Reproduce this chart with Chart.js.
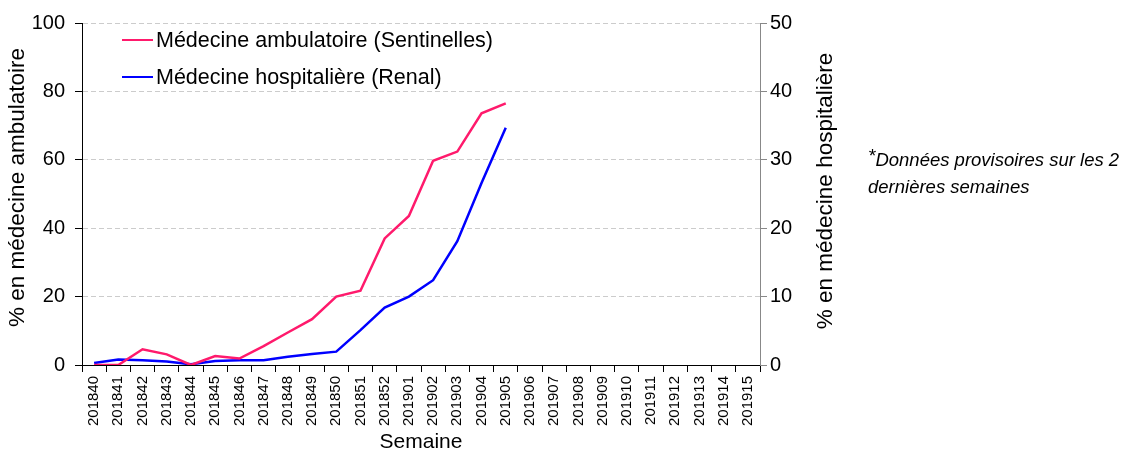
<!DOCTYPE html>
<html>
<head>
<meta charset="utf-8">
<script src="https://cdn.jsdelivr.net/npm/chart.js@4"></script>
<style>
  body { margin: 0; background: #fff; }
  #wrap { position: relative; width: 1125px; height: 452px; }
  #note {
    position: absolute; left: 868px; top: 146px;
    font: italic 18.5px "Liberation Sans", Arial, sans-serif;
    line-height: 27px; color: #000; white-space: nowrap;
  }
  #note sup { font-size: 19px; vertical-align: 4px; line-height: 0; }
</style>
</head>
<body>
<div id="wrap">
  <canvas id="chart_elem"></canvas>
  <div id="note"><sup>*</sup>Données provisoires sur les 2<br>dernières semaines</div>
</div>
<script>
// weeks on the x axis
const weeks = ['201840', '201841', '201842', '201843', '201844', '201845', '201846',
  '201847', '201848', '201849', '201850', '201851', '201852', '201901', '201902',
  '201903', '201904', '201905', '201906', '201907', '201908', '201909', '201910',
  '201911', '201912', '201913', '201914', '201915'];

// % en médecine ambulatoire (left axis)
const sentinelles = [0, 0, 4.6, 3.1, 0, 2.6, 1.9, 5.5, 9.5, 13.4, 20.0, 21.7,
  37.0, 43.6, 59.7, 62.4, 73.6, 76.5];

// % en médecine hospitalière (right axis)
const renal = [0.3, 0.8, 0.7, 0.5, 0.1, 0.6, 0.7, 0.7, 1.2, 1.6, 1.95, 5.1,
  8.4, 10.0, 12.4, 18.1, 26.6, 34.7];

const leftTitle = '% en médecine ambulatoire';
const rightTitle = '% en médecine hospitalière';

const font = '"Liberation Sans", Arial, sans-serif';

// legend inside the plot + both axis titles read bottom to top
const extras = {
  id: 'extras',
  afterDraw(chart) {
    const ctx = chart.ctx;
    const a = chart.chartArea;
    ctx.save();
    ctx.font = '21.5px ' + font;
    ctx.textBaseline = 'middle';
    chart.data.datasets.forEach((ds, i) => {
      const y = a.top + 17 + i * 37;
      const x = a.left + 40;
      ctx.strokeStyle = ds.borderColor;
      ctx.lineWidth = 2;
      ctx.beginPath();
      ctx.moveTo(x, y);
      ctx.lineTo(x + 31, y);
      ctx.stroke();
      ctx.fillStyle = '#000';
      ctx.fillText(ds.label, x + 34, y + 1);
    });

    const vtext = (txt, x, y, size) => {
      ctx.save();
      ctx.translate(x, y);
      ctx.rotate(-Math.PI / 2);
      ctx.font = size + 'px ' + font;
      ctx.textAlign = 'center';
      ctx.textBaseline = 'middle';
      ctx.fillStyle = '#000';
      ctx.fillText(txt, 0, 0);
      ctx.restore();
    };
    const mid = (a.top + a.bottom) / 2;
    vtext(leftTitle, a.left - 64, mid - 6.5, 22.5);
    vtext(rightTitle, a.right + 66, mid - 3, 22.5);
    ctx.restore();
  }
};

const canvas = document.getElementById('chart_elem');
const ctx = canvas.getContext('2d');

const chart = new Chart(ctx, {
  type: 'line',
  data: {
    labels: weeks,
    datasets: [{
      label: 'Médecine ambulatoire (Sentinelles)',
      data: sentinelles,
      borderColor: '#ff1a6c',
      borderWidth: 2.5,
      pointRadius: 0,
      tension: 0,
      yAxisID: 'y'
    }, {
      label: 'Médecine hospitalière (Renal)',
      data: renal,
      borderColor: '#0000ff',
      borderWidth: 2.5,
      pointRadius: 0,
      tension: 0,
      yAxisID: 'y2'
    }]
  },
  options: {
    responsive: true,
    maintainAspectRatio: false,
    animation: false,
    layout: { padding: { top: 23, right: 283, bottom: 0, left: 0 } },
    plugins: { legend: { display: false }, tooltip: { enabled: false } },
    scales: {
      x: {
        offset: true,
        afterFit: (s) => { s.height = 87; },
        grid: { offset: true, drawOnChartArea: false, tickLength: 7, color: '#000' },
        border: { color: '#000', width: 1 },
        ticks: {
          autoSkip: false, minRotation: 90, maxRotation: 90, padding: 4,
          color: '#000', font: { family: font, size: 15 }
        },
        title: {
          display: true, text: 'Semaine', color: '#000',
          font: { family: font, size: 21 }, padding: { top: 0, bottom: -3 }
        }
      },
      y: {
        position: 'left',
        min: 0, max: 100,
        afterFit: (s) => { s.width = 82; },
        grid: { color: '#cccccc', tickColor: '#000', tickLength: 7 },
        border: { color: '#000', dash: [5, 3] },
        ticks: { stepSize: 20, padding: 10, color: '#000', font: { family: font, size: 20 } },
        title: { display: false }
      },
      y2: {
        position: 'right',
        min: 0, max: 50,
        afterFit: (s) => { s.width = 82; },
        grid: { drawOnChartArea: false, tickColor: '#888', tickLength: 7 },
        border: { color: '#888' },
        ticks: { stepSize: 10, padding: 3, color: '#000', font: { family: font, size: 20 } },
        title: { display: false }
      }
    }
  },
  plugins: [extras]
});
</script>
</body>
</html>
